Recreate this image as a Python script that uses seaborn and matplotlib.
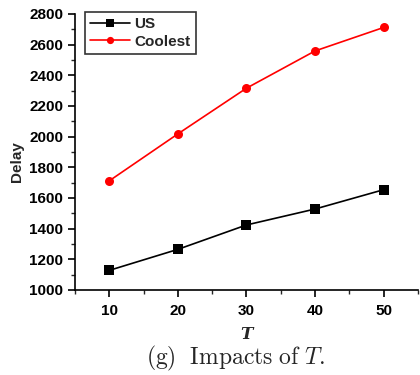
import matplotlib
matplotlib.use("Agg")
import matplotlib.pyplot as plt
import seaborn as sns
import pandas as pd
from matplotlib.ticker import MultipleLocator

T_values = [10, 20, 30, 40, 50]
us_delay = [1128, 1265, 1424, 1528, 1654]
coolest_delay = [1712, 2018, 2316, 2559, 2712]
series_names = ["US", "Coolest"]

df = pd.DataFrame({
    "T": T_values * 2,
    "Delay": us_delay + coolest_delay,
    "Method": [series_names[0]] * len(T_values) + [series_names[1]] * len(T_values),
})

sns.set_theme(style="ticks")
plt.rcParams['font.family'] = ['Liberation Sans', 'DejaVu Sans']
plt.rcParams['mathtext.fontset'] = 'cm'

fig = plt.figure(figsize=(4.2, 3.75), dpi=100)
ax = fig.add_axes([0.1786, 0.2267, 0.8164, 0.736])

palette = {"US": "black", "Coolest": "red"}
markers = {"US": "s", "Coolest": "o"}
sns.lineplot(data=df, x="T", y="Delay", hue="Method", style="Method",
             palette=palette, markers=markers, dashes=False,
             markersize=6.5, linewidth=1.2, markeredgewidth=0, ax=ax)

ax.set_xlim(5, 55)
ax.set_ylim(1000, 2800)
ax.xaxis.set_major_locator(MultipleLocator(10))
ax.xaxis.set_minor_locator(MultipleLocator(5))
ax.yaxis.set_major_locator(MultipleLocator(200))
ax.yaxis.set_minor_locator(MultipleLocator(100))
ax.tick_params(axis='both', which='major', direction='out', length=5, width=1.2,
               labelsize=11, colors='black')
ax.tick_params(axis='x', which='major', pad=5)
ax.tick_params(axis='both', which='minor', direction='out', length=3, width=1.0)
for lbl in ax.get_xticklabels() + ax.get_yticklabels():
    lbl.set_fontweight('bold')

for s in ['top', 'right']:
    ax.spines[s].set_visible(False)
for s in ['left', 'bottom']:
    ax.spines[s].set_linewidth(1.2)
    ax.spines[s].set_color('black')

ax.set_xlabel("T", fontsize=12, fontweight='bold', fontstyle='italic',
              family=['DejaVu Serif'], va='center')
ax.xaxis.set_label_coords(0.5, -0.16)
ax.set_ylabel("Delay", fontsize=11, fontweight='bold', va='center')
ax.yaxis.set_label_coords(-0.169, 0.464)

leg = ax.legend(loc='upper left', bbox_to_anchor=(0.02, 1.02), frameon=True,
                fancybox=False, edgecolor='black', fontsize=11,
                handlelength=2.6, borderpad=0.35, labelspacing=0.25,
                handletextpad=0.3, borderaxespad=0.2, markerscale=0.8)
leg.get_frame().set_linewidth(1.2)
for t in leg.get_texts():
    t.set_fontweight('bold')

fig.text(0.56, 0.045, r"$\mathrm{(g)\ \ Impacts\ of\ }T\mathrm{.}$", fontsize=17,
         ha='center', va='center')

fig.savefig("out.png", dpi=100, facecolor='white')
